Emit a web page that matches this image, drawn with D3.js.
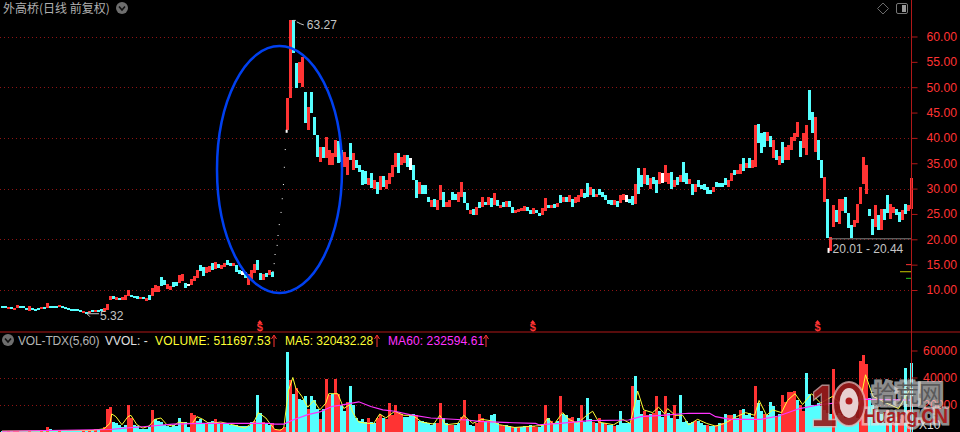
<!DOCTYPE html>
<html><head><meta charset="utf-8">
<script src="https://cdn.jsdelivr.net/npm/d3@7/dist/d3.min.js"></script>
<style>html,body{margin:0;padding:0;background:#000;overflow:hidden}svg{display:block}text{font-family:"Liberation Sans",Arial,sans-serif}</style>
</head><body><svg id="c" width="960" height="432"></svg>
<script>
const highs=[
6.84,6.8,6.6,6.6,6.5,7.0,6.8,6.8,6.5,6.8,
6.4,6.3,6.4,6.6,6.6,7.4,6.9,6.8,6.8,7.0,
6.8,6.6,6.4,6.2,6.2,6.2,6.1,5.9,5.7,5.9,
6.0,6.0,6.1,6.2,6.4,7.2,8.8,8.8,8.7,8.5,
8.6,9.0,10.0,9.0,8.9,8.8,8.7,8.7,8.5,9.0,
10.3,11.0,10.8,12.5,12.0,11.2,10.8,11.6,11.6,13.0,
13.2,11.4,11.2,12.2,12.8,14.0,15.0,14.5,14.6,14.8,
15.3,15.5,15.2,15.0,15.3,15.9,15.4,15.3,15.0,14.0,
13.7,13.6,13.2,14.0,15.2,16.0,13.4,13.2,13.4,14.0,
13.6,null,null,null,null,47.9,63.27,63.27,54.8,55,
56,49,46,49,44.2,40.6,38.3,38.3,40.2,37.6,
37,39.5,39.3,37.6,37.3,36.3,38.9,37,35.6,34.6,
33.7,33.4,32,33,31.7,31.3,32.4,32.4,31.7,33,
34.6,37,37,36.3,36.6,36.6,36,34.6,31.7,31.4,
30.7,30.7,28.4,27.8,28,27.8,30.7,29.4,27.4,27.8,
29.4,29,29.4,31.4,29.4,27.1,25.8,25.9,26.4,27.4,
28.4,27.4,28.4,28.1,29.1,27.8,26.8,27.4,27.6,27.5,
26.4,25.7,25.9,26.1,26.6,26.4,25.8,26.1,25.8,25.2,
26.1,28.1,26.8,26.8,27,27.2,28.7,28.4,28.3,28.7,
27.9,28.4,28.7,30,29.2,31.2,30.4,30,29,30,
29.4,28.7,27.8,27.8,27.8,27.5,28.7,29,28.7,27.9,
28.5,31,34,32.7,34,32.7,32,32.3,31.7,33.3,
33,34.7,33,33.3,31.7,32.3,32.7,35.2,33,31.8,
31,31,31.7,30.7,31,30.4,29.8,30.4,31.3,31.2,
31.2,32,31.7,33,33.7,33.6,34.8,36,35,36,
35.6,42.6,42.7,40.9,41.2,41.2,40.3,39.6,37.6,36.5,
39.2,38.3,38.6,40.2,40.9,43.2,39.3,40.9,42.5,49.4,
45.2,44.2,39.6,35.6,32.3,28,20.4,26.7,25.8,28,
28,28.4,25.1,22.9,23.8,27,30.4,36.2,34.7,26,
24,26.8,24.8,26,26,28.7,27,26.4,26,25.4,
25.7,27,26.8,32];
const lows=[
6.57,6.55,6.3,6.35,6.0,6.4,6.6,6.5,6.2,5.9,
6.0,5.9,6.1,6.2,6.3,6.4,6.6,6.6,6.6,6.6,
6.5,6.3,6.1,6.0,6.0,5.9,5.6,5.4,5.32,5.5,
5.7,5.7,5.8,5.9,5.9,6.0,8.0,8.2,8.1,8.0,
8.0,8.1,8.8,8.6,8.4,8.3,8.2,8.3,7.9,8.0,
8.8,9.6,9.6,10.8,11.0,10.2,10.0,10.5,10.8,11.4,
11.8,10.3,10.9,11.0,11.8,12.4,13.8,12.8,13.4,13.6,
13.9,14.1,14.4,14.2,14.6,15.0,14.7,14.8,13.5,13.1,
13.0,12.3,10.9,12.2,13.4,13.9,12.0,12.0,12.5,12.9,
12.5,null,null,null,null,41.5,47.9,56.7,49.9,50.8,
50,43,41.5,45,40.6,36.3,35.3,36,36,34.6,
34.6,36.3,35,35.2,34.3,32.6,35.6,33.7,34,33.3,
30.7,31,30.8,30.2,30,29,29.7,30.4,30,31,
32.3,34.3,33,34.6,35,34.3,33.7,31.7,28.1,29,
29,29,27.4,26.4,26.4,25.8,27.8,26.4,26.4,26.4,
27.8,27.8,27.4,28.4,27.1,25.8,25,24.7,24.8,26.1,
26.4,26.8,26.8,26.4,26.8,26.6,26.1,26.4,26.4,26.4,
25.1,25.1,25.3,25.5,25.6,25.6,25,25,25.1,24.5,
24.8,25.6,26.1,26.1,26.1,26.4,27.1,27.4,27.4,27.4,
26.4,27.1,27.4,28.4,28.1,28.3,28.7,28.3,28.4,28.8,
28.4,27.8,27,26.8,26.8,26.4,27.1,27.8,27.4,27.2,
26.8,27,29,30.4,31,30.7,30,31,29.2,31,
31.2,31.4,31,30,30.4,30.7,31.4,31.4,31,31,
28.7,29.4,30.4,30,29.8,29,29,29.4,30.4,30.4,
30.4,30.8,30.4,31.5,32.7,32.9,32.9,33.4,34,34,
34,34.3,38.9,37,38.3,39.3,38.3,36,35.6,34.6,
35,35.6,35.6,37.6,39.3,40.2,36.3,38,36.6,43.5,
41,37.3,35.6,32,27.4,20.2,17.6,22.5,23.5,23,
25.5,25.1,22.2,20.2,22.5,23.2,27,31,29,24.5,
20.8,22.5,21.8,21.8,23.8,25.1,24.1,25.1,24.8,23.4,
23.8,25,25.5,26];
const dirs=("CCRCRRCCCR"+"CCCRCRCCCR"+"CCCCCCCRCR"+"CRCCRRRCRC"+"RRRCCCRCRC"+"RRRCCRRCCR"+"RCWRRRCCRR"+"CRCRRCCRCC"+"WCRRRCCRCR"+"CCCCCRRCCR"+
"RCRCCCRCRR"+"RRCCRRCRCC"+"CCRCRCRCRR"+"RRCRRCWCCR"+"CCCRCRRCRR"+"CCRRCCRCRC"+"RCRCRCRCRC"+"CRRRRCCRCC"+"RRCRCRCRCR"+"CRRRCCRCRC"+
"CCCCRCRRWC"+"CRCCRCRCCR"+"WRRCRCRCCR"+"CRCCCCCRCC"+"CCRRCRRCRC"+"RRCCCRCRCR"+"CRRRRRCRRC"+"CRCCRCRRCR"+"RCCCRRRRRC"+"CRCRCCRRCC"+"RCRR").split("");
const volumes=[
0.4,0.4,0.5,0.4,0.5,0.6,0.4,0.4,0.4,0.6,
0.4,0.4,0.4,0.5,0.4,3,1.5,1,1,1.2,
1,0.8,0.7,0.6,0.6,0.6,0.8,1,1.2,1.2,
1,1.5,1.5,1.5,3,17,18,7,6,5,
3,5,20,10,5,4,2,2,2,3,
16,9,8,7,5,4,3,5,4,10,
7,7,3,14,12,8,9,6,6,7,
8,9,6,6,6,6,5,5,5,4,
4,4,4,7,8,27,14,7,6,5,
6,2,1,2,3,59,38,28,32,24,
23,26,17,26,23,17,9,17,39,27,
28,39,28,20,15,22,34,20,10,8,
9,7,10,7,6,10,12,10,9,21,
12,20,14,13,11,11,12,13,12,8,
8,7,6,5,6,6,21,10,6,5,
5,5,6,11,23,9,5,4,6,13,
10,8,7,12,13,6,5,4,5,4,
3,3,3,3,4,4,5,4,3,3,
5,20,10,8,6,8,26,13,12,10,
11,7,10,20,7,25,9,7,6,10,
6,6,5,5,4,5,15,6,6,6,
34,41,23,13,15,12,13,14,26,15,
11,26,14,10,20,9,27,7,8,6,
7,8,8,6,5,5,4,4,5,6,
6,13,12,12,13,10,16,17,12,14,
11,34,21,15,13,12,22,19,11,13,
27,22,29,29,30,23,20,15,43,28,
20,19,21,19,16,14,13,46,12,14,
12,10,11,11,13,10,52,57,50,25,
20,15,14,13,14,16,12,10,11,9,
12,47,16,51];
const volDirs=("CCRCRRCCCR"+"CCCRCRCCCR"+"CCCCCCCRCR"+"CRCRRRRCCC"+"CCRRCCCCCC"+"RCCCCCCCCC"+"RCCRRCCCRC"+"CRCRCCCCCC"+"CCCCRCCRCC"+"RRRRRCRCRC"+
"CCRCCCRCRR"+"CRRCCRCCCC"+"CCRCCRRCRR"+"RRRRCCCCRC"+"CCCCCRRCCR"+"RCCRRCCCRR"+"RCRCCCRRCC"+"RCRCCRCRRC"+"CRCRCCRCCR"+"RCCRCCCRCR"+
"CRCCRCCCCC"+"RCCCRRCRRC"+"CRCCRCCCCC"+"CRCCCRCCRC"+"RCRRCCRCCC"+"CRCCRCCCRC"+"RRRRRCRRCC"+"CCCCCCCRCC"+"CCCCCCRRRC"+"CCCCCRCRCR"+"RCRC").split("");
const ma5Slots=[0,30,34,36,36.6,38,40,42,43,45,47,49,51,53,55,57,59,62,63.5,65,67,69,73,77,81,84,85.5,88,89,91,93,94,95.5,97,98,100,102,104,106,108,109,112,114,116,117,119,122,124,126,128,131,134,137,140,144,146,148,152,154,157,160,163,166,171,180.5,182,184,187,189,192,195,197,199,204,207,209.5,211,212,214,217,219,221,222,224.5,227,229,232,235,238,241,245,248,251,252.5,255,257,260,262,264.5,267,270,273,277,281.5,286,288,290.5,295,299,303];
const ma5Vals=[0.3,0.8,2,6,13,11,5,11,12,5,2.5,4,9,10,5,4,7,6,6,11,9,6,7,5,2.5,7,14,10,7,1.5,1,3,30,40,32,26,18,23,16,21,28,28,17,20,14,7,6,6,13,10,15,12,12,7,5.5,12,5,6,12,6,9,8,5,3,4.5,10,5,14,9,6,12,15,7,5,9,6,20,30,16,14,18,13,17,12,12,5,9,6,4,6,11,14,12,23,12,16,14,23,28,20,28,21,26,17,20,42,26,21,17,32];
const ma60Slots=[0,36,41,47,57,66,89,91,94,97,102,106,110,113,119,123,127,131,136,143,155,159,170.5,178,179,186,196,209,213,220,229,236,238,243,253,259,266,273,282,287,303];
const ma60Vals=[0.2,1.5,2.5,3.5,5.5,6,6,5.5,5.5,8.5,12.5,14.5,18.5,19.5,22,18.5,16,15,12.5,10,8.5,7.5,6.5,6,5,6,8,8.5,11,12,13.5,13.5,11,9,9,11.5,17,20,22,24,23.2];
const dotSlots=[90.2,90.6,90.9,91.6,91.9,92.3,92.9,93.3,93.7,94,94.3,94.6];
const dotPrices=[13.75,15.3,17.1,18.9,20.85,23,25.4,28.1,30.9,34.3,37.8,41.6];
const priceTicks=[60,55,50,45,40,35,30,25,20,15,10];
const priceGrid=[60,50,40,30,20,10];
const volTicks=[60,40,20];
const volGrid=[40,20];
const signalSlots=[86,177,272];
const costLevels=[[15,"#ff3333",5],[13.6,"#c8c800",11],[12.3,"#22cc22",5]];
const title="外高桥(日线 前复权)";
const wmCn="拾荒网",wmEn="Huang.CN";
const headers=[
 {t:"VOL-TDX(5,60)",x:18,c:"#b4b4b4",ls:-.15},{t:"VVOL: -",x:105,c:"#e0e0e0",ls:0},
 {t:"VOLUME: 511697.53",x:155,c:"#ffff33",ls:.15},{t:"MA5: 320432.28",x:285,c:"#ffff33",ls:0},{t:"MA60: 232594.61",x:388,c:"#ff33ff",ls:.1}];
const headArrows=[274,377,486];

const RED="#ff3333",CY="#55ffff",W="#ffffff",AX="#b01818";
const colorOf=d=>d==="R"?RED:d==="C"?CY:W;
const svg=d3.select("#c");
const x=d3.scaleLinear().domain([0,303]).range([2,910.5]);
const y=d3.scaleLinear().domain([10,60]).range([290,36.5]);
const yv=d3.scaleLinear().domain([0,60]).range([431.5,350.5]);

// grid
svg.append("g").selectAll("line").data(priceGrid).join("line")
 .attr("x1",0).attr("x2",911).attr("y1",d=>Math.round(y(d))+.5).attr("y2",d=>Math.round(y(d))+.5)
 .attr("stroke","#8e1414").attr("stroke-dasharray","1 3");
svg.append("g").selectAll("line").data(volGrid).join("line")
 .attr("x1",0).attr("x2",911).attr("y1",d=>Math.round(yv(d))+.5).attr("y2",d=>Math.round(yv(d))+.5)
 .attr("stroke","#8e1414").attr("stroke-dasharray","1 3");

// candles
const idx=d3.range(highs.length).filter(i=>highs[i]!==null);
svg.append("g").attr("shape-rendering","crispEdges").selectAll("rect").data(idx).join("rect")
 .attr("x",i=>Math.round(x(i)-1)).attr("width",3)
 .attr("y",i=>y(highs[i])).attr("height",i=>Math.max(2,y(lows[i])-y(highs[i])))
 .attr("fill",i=>colorOf(dirs[i]));
svg.append("g").selectAll("rect").data(dotSlots).join("rect")
 .attr("x",d=>x(d)).attr("y",(d,i)=>y(dotPrices[i])).attr("width",(d,i)=>i===dotSlots.length-1?2:1).attr("height",(d,i)=>i===dotSlots.length-1?3:1)
 .attr("fill",W);

// volumes
svg.append("g").attr("shape-rendering","crispEdges").selectAll("rect").data(volumes).join("rect")
 .attr("x",(d,i)=>Math.round(x(i)-1)).attr("width",3)
 .attr("y",d=>yv(d)).attr("height",d=>yv(0)-yv(d)+1)
 .attr("fill",(d,i)=>colorOf(volDirs[i]));
const ln=d3.line().x(d=>x(d[0])).y(d=>yv(d[1]));
svg.append("path").attr("d",ln(ma5Slots.map((s,i)=>[s,ma5Vals[i]]))).attr("fill","none").attr("stroke","#ffff33").attr("stroke-width",1);
svg.append("path").attr("d",ln(ma60Slots.map((s,i)=>[s,ma60Vals[i]]))).attr("fill","none").attr("stroke","#ff33ff").attr("stroke-width",1.2);

// axes
const ax=d3.axisRight(y).tickValues(priceTicks).tickFormat(d3.format(".2f")).tickSize(6);
const gA=svg.append("g").attr("transform","translate(911.5,0)").call(ax);
gA.select(".domain").remove();
gA.selectAll("line").attr("stroke",AX);
gA.selectAll("text").attr("fill",RED).attr("font-size",12.2).attr("text-anchor","end").attr("x",45.5);
const av=d3.axisRight(yv).tickValues(volTicks).tickFormat(d=>d*1000).tickSize(6);
const gV=svg.append("g").attr("transform","translate(911.5,0)").call(av);
gV.select(".domain").remove();
gV.selectAll("line").attr("stroke",AX);
gV.selectAll("text").attr("fill",RED).attr("font-size",12.2).attr("text-anchor","end").attr("x",45.5);
svg.append("line").attr("x1",911.5).attr("x2",911.5).attr("y1",0).attr("y2",432).attr("stroke",AX);
svg.append("line").attr("x1",0).attr("x2",960).attr("y1",332).attr("y2",332).attr("stroke",AX);
svg.append("text").attr("x",919).attr("y",429).attr("fill","#d8d8d8").attr("font-size",12).text("X10");

// cost level marks
svg.append("g").selectAll("line").data(costLevels).join("line")
 .attr("x1",d=>911-d[2]).attr("x2",911).attr("y1",d=>y(d[0])).attr("y2",d=>y(d[0])).attr("stroke",d=>d[1]);

// signals
const sig=svg.append("g").selectAll("g").data(signalSlots).join("g").attr("transform",d=>`translate(${x(d)},0)`);
sig.append("text").attr("text-anchor","middle").attr("y",331).attr("fill",RED).attr("font-size",11).attr("font-weight","bold").text("$");
sig.append("path").attr("d","M0,320 L2.5,323 L-2.5,323 Z").attr("fill",RED);

// ellipse
svg.append("ellipse").attr("cx",279.5).attr("cy",169.5).attr("rx",62.5).attr("ry",123.5)
 .attr("fill","none").attr("stroke","#0040f0").attr("stroke-width",2.5);

// annotations
const lab="#c4c4c4";
function ann(t,px,py){svg.append("text").attr("x",px).attr("y",py).attr("fill",lab).attr("font-size",12).text(t);}
ann("63.27",x(97)+14,y(63.27)+9);
svg.append("path").attr("d",`M${x(97)},${y(63.27)+.5} h3 M${x(97)},${y(63.27)+.5} l1,2 M${x(97)+4},${y(63.27)+2} l4,2 l3,1`).attr("stroke",lab).attr("fill","none");
ann("5.32",x(28)+14,y(5.32)+6);
svg.append("path").attr("d",`M${x(28)+1},${y(5.32)} h12 M${x(28)+1},${y(5.32)} l3,-2 M${x(28)+1},${y(5.32)} l3,3`).attr("stroke",lab).attr("fill","none");
ann("20.01 - 20.44",x(276)+3,y(17.6)+2);
svg.append("line").attr("x1",x(276)).attr("x2",911).attr("y1",y(20.2)+.5).attr("y2",y(20.2)+.5).attr("stroke","#808080");
svg.append("rect").attr("x",x(275)+1).attr("y",y(18.3)).attr("width",2).attr("height",5).attr("fill",W);

// title + icons
svg.append("text").attr("x",3).attr("y",12.5).attr("fill","#b0b0b0").attr("font-size",12).style("font-family",'"Noto Sans CJK SC"').text(title);
function chev(cx,cy){
 svg.append("circle").attr("cx",cx).attr("cy",cy).attr("r",6).attr("fill","#6e6e6e");
 svg.append("path").attr("d",`M${cx-3},${cy-1.5} L${cx},${cy+2} L${cx+3},${cy-1.5}`).attr("stroke","#111").attr("stroke-width",1.6).attr("fill","none");
}
chev(122,8);chev(8,340);
svg.append("path").attr("d","M883,3 L888.5,8.5 L883,14 L877.5,8.5 Z").attr("fill","none").attr("stroke","#6a6a6a");
svg.append("rect").attr("x",896.5).attr("y",3.5).attr("width",11).attr("height",10).attr("rx",1.5).attr("fill","none").attr("stroke","#777");
svg.append("rect").attr("x",902).attr("y",5).attr("width",4).attr("height",7).attr("fill","#999");

// volume header
svg.append("g").selectAll("text").data(headers).join("text")
 .attr("x",d=>d.x).attr("y",345).attr("fill",d=>d.c).attr("font-size",12).attr("letter-spacing",d=>d.ls).text(d=>d.t);
svg.append("g").selectAll("path").data(headArrows).join("path")
 .attr("d",d=>`M${d},347 V336 M${d-2.5},339 L${d},335 L${d+2.5},339`).attr("stroke",RED).attr("fill","none");

// watermark
const wm=svg.append("g");
const halo="#e4e4e4";
wm.append("text").attr("x",873).attr("y",402).attr("font-size",23).style("font-family",'"Noto Sans CJK SC"').attr("fill","#5a5a5a").attr("stroke",halo).attr("stroke-opacity",.65).attr("stroke-width",6).attr("paint-order","stroke").text(wmCn);
wm.append("text").attr("x",863).attr("y",423).attr("font-size",19.5).attr("font-weight","bold").attr("fill","#a82020").attr("stroke",halo).attr("stroke-opacity",.65).attr("stroke-width",5).attr("paint-order","stroke").attr("textLength",85).text(wmEn);
wm.append("text").attr("x",811).attr("y",426).attr("font-size",58).attr("font-weight","bold").attr("fill","#9a1c1c").attr("stroke","#e8b8b8").attr("stroke-opacity",.8).attr("stroke-width",3).attr("paint-order","stroke").attr("opacity",.92).attr("textLength",26).attr("lengthAdjust","spacingAndGlyphs").text("1");
wm.append("ellipse").attr("cx",849).attr("cy",404).attr("rx",16).attr("ry",22).attr("fill","#9a1c1c").attr("stroke","#e8b8b8").attr("stroke-opacity",.8).attr("stroke-width",2).attr("opacity",.92);
wm.append("ellipse").attr("cx",849).attr("cy",403).attr("rx",9.5).attr("ry",15).attr("fill","#f0e0e0").attr("opacity",.92);
wm.append("circle").attr("cx",849).attr("cy",401).attr("r",3.5).attr("fill","#b01c1c");
</script></body></html>
